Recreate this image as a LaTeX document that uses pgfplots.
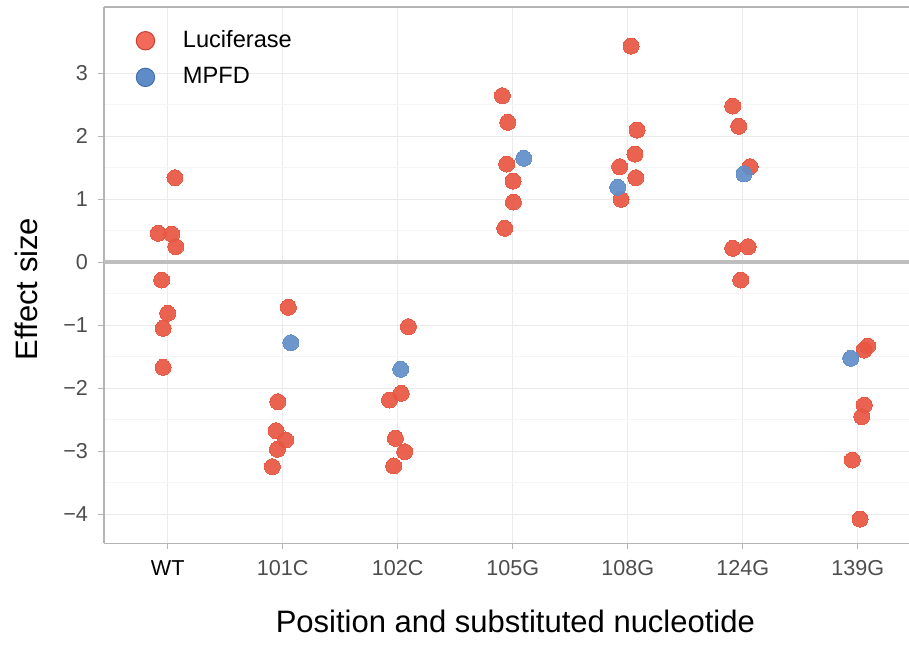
\documentclass[border=0pt]{standalone}
\usepackage{pgfplots}
\pgfplotsset{compat=1.18}
\usepackage{fontspec}
\setmainfont{Liberation Sans}
\definecolor{ptred}{RGB}{232,86,66}
\definecolor{ptblue}{RGB}{97,142,200}
\definecolor{lgred}{RGB}{243,106,90}
\definecolor{lgredo}{RGB}{200,64,52}
\definecolor{lgblue}{RGB}{95,140,200}
\definecolor{lgblueo}{RGB}{70,112,172}
\definecolor{ticklab}{RGB}{77,77,77}
\definecolor{axcol}{RGB}{180,180,180}
\definecolor{majgrid}{RGB}{235,235,235}
\definecolor{mingrid}{RGB}{245,245,245}
\definecolor{zerocol}{RGB}{190,190,190}
\begin{document}
\begin{tikzpicture}
\useasboundingbox (0,0) rectangle (454.5bp,325.5bp);
\begin{axis}[
  at={(52bp,53.85bp)}, anchor=south west,
  scale only axis, width=402.5bp, height=268bp,
  xmin=-0.554, xmax=6.446, ymin=-4.46, ymax=4.048,
  axis x line*=bottom, axis y line*=left,
  axis line style={draw=axcol, line width=0.8bp, -},
  tick align=outside, major tick length=3bp,
  tick style={color=axcol, line width=0.6bp},
  xtick={0,1,2,3,4,5,6},
  xticklabels={{\color{black}WT},101C,102C,105G,108G,124G,139G},
  ytick={-4,-3,-2,-1,0,1,2,3},
  yticklabels={−4,−3,−2,−1,0,1,2,3},
  minor y tick num=1,
  grid=both,
  major grid style={draw=majgrid, line width=0.5bp},
  minor grid style={draw=mingrid, line width=0.5bp},
  minor tick length=0pt,
  ticklabel style={font=\fontsize{10.8bp}{12bp}\selectfont, text=ticklab},
  yticklabel style={xshift=-1.5bp},
  xticklabel style={yshift=-2bp},
  xlabel={Position and substituted nucleotide},
  ylabel={Effect size},
  label style={font=\fontsize{15.5bp}{18bp}\selectfont, text=black},
  xlabel style={at={(axis description cs:0.511,-0.1655)}, anchor=base},
  ylabel style={at={(axis description cs:-0.0832,0.4745)}, anchor=base},
  legend style={at={(axis description cs:0.034,0.972)}, anchor=north west,
    draw=none, fill=none, font=\fontsize{11.8bp}{13bp}\selectfont,
    row sep=4.5bp, cells={anchor=west}, inner sep=2bp},
  clip=false,
]
\draw[axcol, line width=0.8bp] (rel axis cs:0,1) -- (rel axis cs:1,1);
\addplot[forget plot, draw=zerocol, line width=2bp] coordinates {(-0.554,0) (6.446,0)};
\addplot[only marks, mark=*, mark size=4bp, draw=ptred, fill=ptred,
  mark options={draw=ptred, fill=ptred, line width=0pt, opacity=0.92},
  legend image code/.code={\draw[fill=lgred, draw=lgredo, line width=0.5bp] (4.5bp,0) circle (4.6bp) (21bp,0);}]
  coordinates {
  (0.063,1.343) (-0.082,0.46) (0.035,0.449) (0.07,0.248) (-0.052,-0.281)
  (0.0,-0.81) (-0.04,-1.048) (-0.04,-1.667)
  (1.049,-0.714) (0.957,-2.213) (0.942,-2.673) (1.026,-2.82) (0.954,-2.968) (0.91,-3.244)
  (2.093,-1.022) (2.03,-2.079) (1.928,-2.186) (1.98,-2.794) (2.061,-3.006) (1.965,-3.233)
  (2.91,2.645) (2.957,2.222) (2.948,1.56) (3.003,1.29) (3.006,0.957) (2.93,0.54)
  (4.029,3.433) (4.081,2.1) (4.063,1.719) (3.93,1.518) (4.07,1.343) (3.942,1.0)
  (4.913,2.481) (4.965,2.159) (5.064,1.518) (4.913,0.222) (5.047,0.248) (4.983,-0.281)
  (6.087,-1.329) (6.055,-1.392) (6.057,-2.265) (6.035,-2.45) (5.953,-3.138) (6.02,-4.075)
  };
\addlegendentry{Luciferase}
\addplot[only marks, mark=*, mark size=4bp, draw=ptblue, fill=ptblue,
  mark options={draw=ptblue, fill=ptblue, line width=0pt, opacity=0.92},
  legend image code/.code={\draw[fill=lgblue, draw=lgblueo, line width=0.5bp] (4.5bp,0) circle (4.6bp) (21bp,0);}]
  coordinates {
  (1.07,-1.276) (2.026,-1.698) (3.096,1.651) (3.913,1.19) (5.012,1.402) (5.939,-1.524)
  };
\addlegendentry{MPFD}
\end{axis}
\end{tikzpicture}
\end{document}
